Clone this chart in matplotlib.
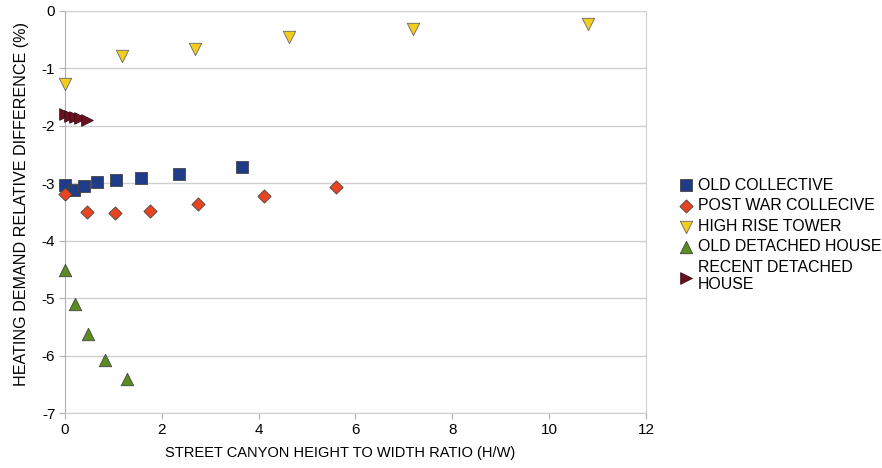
import matplotlib
matplotlib.use("Agg")
import matplotlib.pyplot as plt

plt.rcParams['font.family'] = ['Liberation Sans', 'DejaVu Sans']
plt.rcParams['axes.unicode_minus'] = False

# street canyon H/W ratio and heating demand relative difference (%)
old_collective_x = [0.0, 0.18, 0.39, 0.67, 1.05, 1.56, 2.35, 3.65]
old_collective_y = [-3.03, -3.11, -3.05, -2.98, -2.95, -2.91, -2.83, -2.72]

post_war_x = [0.0, 0.46, 1.03, 1.76, 2.75, 4.11, 5.60]
post_war_y = [-3.19, -3.50, -3.51, -3.48, -3.36, -3.22, -3.07]

high_rise_x = [0.0, 1.18, 2.69, 4.63, 7.19, 10.8]
high_rise_y = [-1.27, -0.78, -0.66, -0.45, -0.31, -0.23]

old_detached_x = [0.0, 0.21, 0.48, 0.83, 1.28]
old_detached_y = [-4.51, -5.10, -5.63, -6.08, -6.41]

recent_detached_x = [0.0, 0.1, 0.2, 0.3, 0.45]
recent_detached_y = [-1.80, -1.82, -1.85, -1.87, -1.90]

fig = plt.figure(figsize=(8.82, 4.68), dpi=100)
ax = fig.add_axes([0.0737, 0.1175, 0.6587, 0.859])

edge = '#444444'
common = dict(linewidths=0.6, zorder=3, clip_on=False)
ax.scatter(old_collective_x, old_collective_y, marker='s', s=80, c='#1f3c88',
           edgecolors=edge, label='OLD COLLECTIVE', **common)
ax.scatter(post_war_x, post_war_y, marker='D', s=45, c='#e8441f',
           edgecolors=edge, label='POST WAR COLLECIVE', **common)
ax.scatter(high_rise_x, high_rise_y, marker='v', s=80, c='#f2cc1f',
           edgecolors='#666666', label='HIGH RISE TOWER', **common)
ax.scatter(old_detached_x, old_detached_y, marker='^', s=80, c='#5b8c1f',
           edgecolors=edge, label='OLD DETACHED HOUSE', **common)
ax.scatter(recent_detached_x, recent_detached_y, marker='>', s=70, c='#6a1020',
           edgecolors='#3a0a10', label='RECENT DETACHED\nHOUSE', **common)

ax.set_xlim(0, 12)
ax.set_ylim(-7, 0)
ax.set_xticks(range(0, 13, 2))
ax.set_yticks(range(-7, 1))
ax.grid(axis='y', color='#d0d0d0', linewidth=1)
ax.set_axisbelow(True)
for side in ['top', 'right', 'bottom']:
    ax.spines[side].set_color('#d0d0d0')
ax.spines['left'].set_color('#b0b0b0')
ax.tick_params(length=4, color='#b0b0b0', labelsize=11, pad=3)

ax.set_xlabel('STREET CANYON HEIGHT TO WIDTH RATIO (H/W)', fontsize=10.5)
ax.xaxis.set_label_coords(0.473, -0.082)
ax.set_ylabel('HEATING DEMAND RELATIVE DIFFERENCE (%)', fontsize=11.6)
ax.yaxis.set_label_coords(-0.062, 0.52)

leg = ax.legend(loc='center left', bbox_to_anchor=(1.045, 0.443), frameon=False,
                fontsize=11.4, handletextpad=0.25, labelspacing=0.35,
                handlelength=1.0, borderaxespad=0)

fig.savefig('out.png', dpi=100)
